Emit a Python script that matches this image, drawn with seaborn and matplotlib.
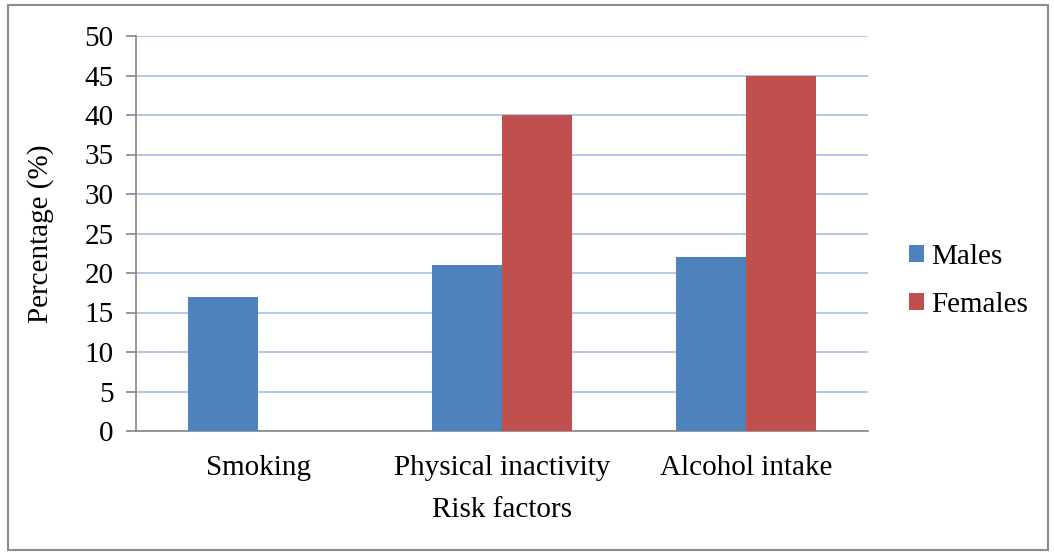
import matplotlib
matplotlib.use('Agg')
import matplotlib.pyplot as plt
import pandas as pd
import seaborn as sns
from matplotlib.patches import Rectangle

sns.set_theme(style='white')
plt.rcParams['font.family'] = ['Liberation Serif', 'DejaVu Serif']
plt.rcParams['text.color'] = 'black'
plt.rcParams['axes.labelcolor'] = 'black'
plt.rcParams['xtick.color'] = 'black'
plt.rcParams['ytick.color'] = 'black'

# Data
categories = ['Smoking', 'Physical inactivity', 'Alcohol intake']
males = [17, 21, 22]
females = [0, 40, 45]
series = ['Males', 'Females']
colors = ['#4F81BD', '#C0504D']

data = pd.DataFrame({
    'Risk factors': categories * 2,
    'Percentage': males + females,
    'Sex': [series[0]] * len(categories) + [series[1]] * len(categories),
})

fig = plt.figure(figsize=(10.54, 5.53), dpi=100)
ax = fig.add_axes([136 / 1054, 1 - 431 / 553, 732 / 1054, 395 / 553])

sns.barplot(data=data, x='Risk factors', y='Percentage', hue='Sex',
            palette=colors, width=0.574, saturation=1, linewidth=0,
            ax=ax, zorder=3)

ax.set_ylim(0, 50)
ax.set_xlim(-0.5, 2.5)
ax.set_yticks(range(0, 51, 5))
ax.yaxis.grid(True, color='#AFC4E8', linewidth=1.3, zorder=0)
ax.set_axisbelow(True)
for side in ['top', 'right']:
    ax.spines[side].set_visible(False)
for side in ['left', 'bottom']:
    ax.spines[side].set_color('#868686')
    ax.spines[side].set_linewidth(1.2)
ax.tick_params(axis='y', length=7, width=1.2, color='#868686', labelsize=21,
               pad=9, left=True, labelcolor='black')
ax.tick_params(axis='x', length=0, labelsize=21, pad=17, labelcolor='black')
ax.set_xlabel('Risk factors', fontsize=21, labelpad=12, color='black')
ax.set_ylabel('Percentage (%)', fontsize=21, labelpad=22, color='black')

ax.legend(loc='center left', bbox_to_anchor=(1.056, 0.38), frameon=False,
          fontsize=21, handlelength=0.5, handleheight=0.5, handletextpad=0.25,
          labelspacing=0.75, borderpad=0, borderaxespad=0)

fig.patches.append(Rectangle((8 / 1054, 3 / 553), 1040 / 1054, 545 / 553,
                             transform=fig.transFigure, fill=False,
                             edgecolor='#8C8C8C', linewidth=1.5))

fig.savefig('out.png', dpi=100)
